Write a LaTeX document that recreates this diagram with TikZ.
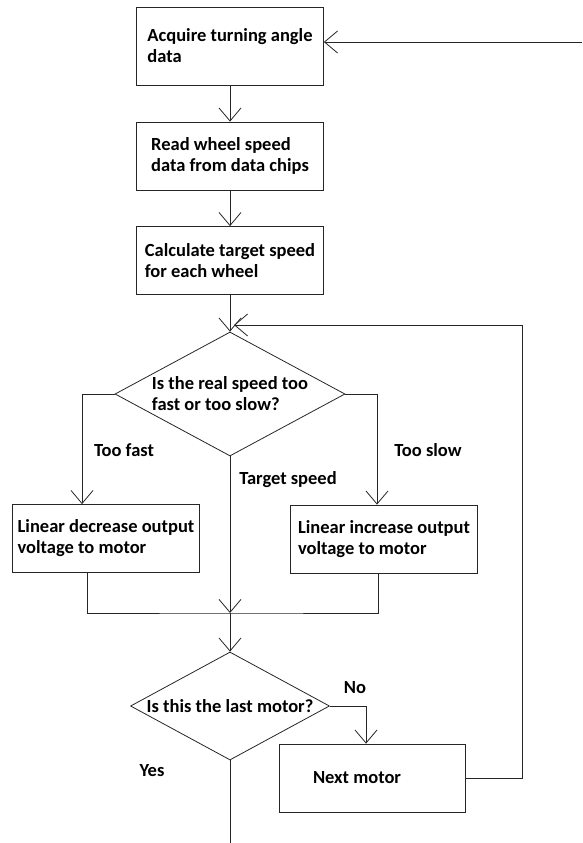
\documentclass[tikz,border=0pt]{standalone}
\usepackage{fontspec}
\setmainfont{Carlito}
\usetikzlibrary{
    arrows.meta,
    shapes.geometric,
    positioning
}
\tikzset{
    flowline/.style={line width=0.8pt, draw=black!85},
    flowarrow/.style={flowline, -{Straight Barb[length=13pt, width=22pt, line width=0.8pt]}},
    stepbox/.style={draw=black!85, line width=0.8pt, minimum width=187pt, minimum height=68pt, align=left, inner sep=0pt},
    choice/.style={diamond, draw=black!85, line width=0.8pt, inner sep=0pt, shape aspect=1.85, align=left},
    tag/.style={inner sep=0pt}
}

\begin{document}
\begin{tikzpicture}[x=1pt, y=-1pt, font=\fontsize{18.5}{21}\selectfont\bfseries]
                                \useasboundingbox (0, 0) rectangle (582, 843);
                                \node[stepbox, minimum height=78pt] (acquire) at (230, 46) {Acquire turning angle\\data};
                                \node[stepbox] (read) at (230, 156) {Read wheel speed\\data from data chips};
                                \node[stepbox] (calc) at (230, 260.5) {Calculate target speed\\for each wheel};
                                \node[choice, minimum width=230pt, minimum height=124pt] (fastslow) at (230, 394) {Is the real speed too\\fast or too slow?};
                                \node[stepbox] (decrease) at (106, 538.5) {Linear decrease output\\voltage to motor};
                                \node[stepbox] (increase) at (384, 539) {Linear increase output\\voltage to motor};
                                \node[choice, minimum width=199pt, minimum height=108pt] (lastmotor) at (230, 706) {Is this the last motor?};
                                \node[stepbox, minimum width=186pt, text width=118pt, inner xsep=34pt, align=flush left] (next) at (372, 778) {Next motor};
                                \node[tag] (toofast) at (124, 450) {Too fast};
                                \node[tag] (tooslow) at (428, 450) {Too slow};
                                \node[tag] (target) at (288, 480) {Target speed};
                                \node[tag] (no) at (355, 688) {No};
                                \node[tag] (yes) at (152, 771) {Yes};
                                \coordinate (feed) at (582, 42);
                                \coordinate (loopin) at (234, 325);
                                \coordinate (fastturn) at (82, 394);
                                \coordinate (slowturn) at (377, 394);
                                \coordinate (merge) at (230, 613);
                                \coordinate (noturn) at (366, 706);
                                \coordinate (exit) at (230, 843);
                                \draw[flowarrow] (feed) -- (feed -| acquire.east);
                                \draw[flowarrow] (acquire.south) -- (read.north);
                                \draw[flowarrow] (read.south) -- (calc.north);
                                \draw[flowarrow] (calc.south) -- (fastslow.north);
                                \draw[flowarrow] (next.east) -- ++(57, 0) |- (loopin);
                                \draw[flowarrow] (fastslow.west) -- (fastturn) -- (fastturn |- decrease.north);
                                \draw[flowarrow] (fastslow.east) -- (slowturn) -- (slowturn |- increase.north);
                                \draw[flowarrow] (fastslow.south) -- (merge);
                                \draw[flowline] ([xshift=-19pt]decrease.south) |- (merge) -| ([xshift=-6pt]increase.south);
                                \draw[flowarrow] (merge) -- (lastmotor.north);
                                \draw[flowarrow] (lastmotor.east) -- (noturn) -- (noturn |- next.north);
                                \draw[flowline] (lastmotor.south) -- (exit);
                            \end{tikzpicture}
\end{document}
